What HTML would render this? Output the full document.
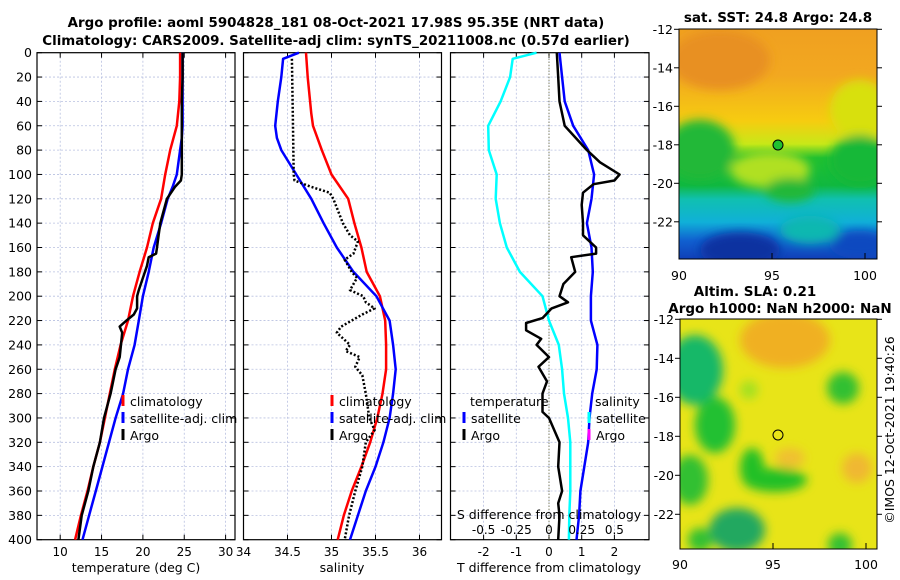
<!DOCTYPE html>
<html><head><meta charset="utf-8">
<style>
body{margin:0;background:#fff;}
svg{display:block;font-family:"DejaVu Sans","Liberation Sans",sans-serif;}
</style></head>
<body>
<svg id="c" width="900" height="580" viewBox="0 0 900 580">
<defs>
<filter id="blur1" x="-20%" y="-20%" width="140%" height="140%"><feGaussianBlur stdDeviation="5"/></filter>
<filter id="blur2" x="-20%" y="-20%" width="140%" height="140%"><feGaussianBlur stdDeviation="5"/></filter>
<clipPath id="clipm1"><rect x="679" y="29" width="198" height="230"/></clipPath>
<clipPath id="clipm2"><rect x="680" y="319" width="197" height="230"/></clipPath>
<linearGradient id="sstg" x1="0" y1="0" x2="0" y2="1">
<stop offset="0" stop-color="#f0a020"/><stop offset="0.2" stop-color="#f2a820"/><stop offset="0.4" stop-color="#f6cc10"/>
<stop offset="0.5" stop-color="#c8e818"/><stop offset="0.56" stop-color="#20c030"/><stop offset="0.68" stop-color="#10b840"/>
<stop offset="0.74" stop-color="#10c0b0"/><stop offset="0.84" stop-color="#10b0d8"/><stop offset="0.92" stop-color="#1060d0"/><stop offset="1" stop-color="#1040b8"/>
</linearGradient>
</defs>
<g font-weight="bold" font-size="13.4" text-anchor="middle">
<text x="336" y="27">Argo profile: aoml 5904828_181 08-Oct-2021 17.98S 95.35E (NRT data)</text>
<text x="336" y="45">Climatology: CARS2009. Satellite-adj clim: synTS_20211008.nc (0.57d earlier)</text>
</g>
<g id="plots"></g>
<g id="maps">
<text x="778" y="22" font-size="13.5" font-weight="bold" text-anchor="middle">sat. SST: 24.8 Argo: 24.8</text>
<g clip-path="url(#clipm1)">
<rect x="679" y="29" width="198" height="230" fill="url(#sstg)"/>
<g filter="url(#blur1)">
<ellipse cx="720" cy="60" rx="50" ry="30" fill="#e89020"/>
<ellipse cx="860" cy="110" rx="30" ry="30" fill="#d8e010"/>
<ellipse cx="700" cy="150" rx="35" ry="30" fill="#20b838"/>
<ellipse cx="860" cy="160" rx="30" ry="25" fill="#18b838"/>
<ellipse cx="770" cy="170" rx="40" ry="18" fill="#b0e020"/>
<ellipse cx="790" cy="190" rx="25" ry="12" fill="#20b838"/>
<ellipse cx="740" cy="250" rx="40" ry="18" fill="#0830a0"/>
<ellipse cx="860" cy="245" rx="30" ry="14" fill="#1048c0"/>
<ellipse cx="810" cy="230" rx="30" ry="14" fill="#10b8b0"/>
</g>
</g>
<rect x="679" y="29" width="198" height="230" fill="none" stroke="#000" stroke-width="1"/>
<circle cx="778" cy="145" r="5" fill="#20c030" stroke="#000"/>
<text x="755" y="296" font-size="13.5" font-weight="bold" text-anchor="middle">Altim. SLA: 0.21</text>
<text x="780" y="313" font-size="13.5" font-weight="bold" text-anchor="middle">Argo h1000: NaN h2000: NaN</text>
<g clip-path="url(#clipm2)">
<rect x="680" y="319" width="197" height="230" fill="#e8e418"/>
<g filter="url(#blur2)">
<ellipse cx="785" cy="340" rx="45" ry="28" fill="#f0b020"/>
<ellipse cx="695" cy="370" rx="28" ry="35" fill="#18b868"/>
<ellipse cx="715" cy="425" rx="20" ry="28" fill="#20c030"/>
<ellipse cx="690" cy="480" rx="18" ry="25" fill="#30c030"/>
<ellipse cx="843" cy="388" rx="16" ry="16" fill="#30c030"/>
<ellipse cx="749" cy="390" rx="9" ry="9" fill="#a0e020"/>
<ellipse cx="775" cy="480" rx="32" ry="12" fill="#20c028"/>
<ellipse cx="752" cy="468" rx="12" ry="20" fill="#20c028"/>
<ellipse cx="737" cy="530" rx="28" ry="22" fill="#20a860"/>
<ellipse cx="857" cy="468" rx="15" ry="15" fill="#f0b830"/>
<ellipse cx="790" cy="458" rx="15" ry="10" fill="#f0c030"/>
<ellipse cx="840" cy="545" rx="12" ry="12" fill="#30c030"/>
<ellipse cx="700" cy="540" rx="12" ry="12" fill="#30c030"/>
</g>
</g>
<rect x="680" y="319" width="197" height="230" fill="none" stroke="#000" stroke-width="1"/>
<circle cx="778" cy="435" r="5" fill="none" stroke="#000"/>
<text transform="translate(894,430) rotate(-90)" font-size="12.5" text-anchor="middle">©IMOS 12-Oct-2021 19:40:26</text>
</g>
</svg>
<script>
// ---------- data ----------
const depthTicks=[0,20,40,60,80,100,120,140,160,180,200,220,240,260,280,300,320,340,360,380,400];
const tempTicks=[10,15,20,25,30];
const salTicks=[34,34.5,35,35.5,36];
const tdiffTicks=[-2,-1,0,1,2];
const sdiffTickLabels=["-0.5","-0.25","0","0.25","0.5"];
const sdiffTicks=[-0.5,-0.25,0,0.25,0.5];
// temperature profiles
const tClimDepth=[0,20,40,60,80,100,120,140,160,180,200,220,240,260,280,300,320,340,360,380,400];
const tClim=[24.5,24.5,24.4,24.1,23.3,22.7,22.2,21.2,20.5,19.6,18.8,18.2,17.3,16.6,16.0,15.4,14.8,14.0,13.3,12.5,11.8];
const tSatDepth=[0,20,40,60,70,80,100,110,120,140,160,180,200,220,240,260,280,300,320,340,360,380,400];
const tSat=[24.8,24.8,24.8,24.8,24.7,24.5,24.1,23.6,23.0,22.2,21.3,20.7,20.0,19.5,19.0,18.2,17.6,16.7,15.9,15.1,14.3,13.5,12.7];
const tArgoDepth=[0,20,40,60,80,100,105,110,120,130,140,150,160,165,168,175,185,195,200,210,215,220,225,230,250,260,280,300,320,340,360,380,400];
const tArgo=[24.8,24.8,24.7,24.7,24.7,24.7,24.6,23.9,22.9,22.5,22.1,21.9,21.7,21.6,20.7,20.5,20.0,19.5,19.3,19.3,18.9,18.0,17.2,17.5,17.2,16.7,16.1,15.3,14.8,14.0,13.4,12.6,12.2];
// salinity profiles
const sClimDepth=[0,20,50,60,80,100,120,140,160,180,200,220,240,260,280,300,320,340,360,380,400];
const sClim=[34.71,34.73,34.77,34.79,34.89,35.0,35.19,35.26,35.34,35.40,35.55,35.61,35.62,35.62,35.58,35.52,35.44,35.34,35.23,35.14,35.07];
const sSatDepth=[0,5,20,40,60,70,80,100,120,140,160,180,200,220,240,260,280,300,320,340,360,380,400];
const sSat=[34.63,34.45,34.43,34.39,34.36,34.38,34.43,34.60,34.77,34.91,35.06,35.25,35.51,35.66,35.70,35.73,35.70,35.66,35.59,35.50,35.39,35.30,35.21];
const sArgoDepth=[5,50,100,105,110,115,120,140,150,155,165,170,180,185,195,200,205,210,215,225,230,240,245,250,258,265,280,300,310,320,340,360,380,400];
const sArgo=[34.55,34.56,34.57,34.58,34.76,34.98,35.02,35.13,35.21,35.30,35.25,35.15,35.23,35.29,35.21,35.36,35.39,35.49,35.35,35.11,35.06,35.21,35.16,35.32,35.27,35.35,35.39,35.43,35.49,35.39,35.35,35.27,35.20,35.15];
// differences from climatology
const dTDepth=[0,5,20,40,60,80,100,120,140,160,180,200,220,240,260,280,300,320,340,360,380,400];
const dTSat=[-0.38,-1.11,-1.19,-1.48,-1.86,-1.84,-1.6,-1.63,-1.5,-1.29,-0.89,-0.2,0,0.3,0.4,0.46,0.58,0.65,0.65,0.65,0.62,0.61];
const dSDepth=[0,20,40,60,80,100,120,140,160,180,200,220,240,260,280,300,320,340,360,380,400];
const dSSat=[0.08,0.1,0.12,0.185,0.3,0.345,0.325,0.29,0.325,0.335,0.32,0.32,0.37,0.365,0.33,0.31,0.3,0.27,0.24,0.23,0.21];
const dSArgoDepth=[0,20,40,60,80,90,100,105,108,115,125,140,150,160,165,168,180,190,200,205,210,218,222,228,235,240,250,258,270,280,295,300,320,340,360,370,380,400];
const dSArgo=[0.06,0.07,0.08,0.12,0.29,0.39,0.54,0.5,0.34,0.26,0.25,0.26,0.26,0.36,0.36,0.17,0.2,0.11,0.08,0.145,0.02,-0.05,-0.175,-0.175,-0.06,-0.095,0,-0.08,-0.015,-0.05,-0.05,0,0.08,0.07,0.1,0.07,0.08,0.07];

// ---------- geometry ----------
const NS="http://www.w3.org/2000/svg";
const yTop=52.7, yBot=539.7;
const yD=d=>yTop+d*(yBot-yTop)/400;
const P1={l:37,r:235}, P2={l:243.5,r:441.5}, P3={l:450.5,r:649};
const xT=t=>60.2+(t-10)*8.27;
const xS=s=>243.5+(s-34)*88;
const xTd=t=>549+t*32.7;
const xSd=s=>549+s*4*32.7;
const g=document.getElementById('plots');
function el(tag,attrs,parent){const e=document.createElementNS(NS,tag);for(const k in attrs)e.setAttribute(k,attrs[k]);(parent||g).appendChild(e);return e;}
function txt(x,y,s,size,anchor,parent){const t=el('text',{x:x,y:y,'font-size':size,'text-anchor':anchor||'middle'},parent);t.textContent=s;return t;}
function line(xs,ys,xf,color,width,dash,name){
  let d='';for(let i=0;i<xs.length;i++){d+=(i?'L':'M')+xf(xs[i]).toFixed(1)+','+yD(ys[i]).toFixed(1);}
  const p=el('path',{d:d,fill:'none',stroke:color,'stroke-width':width,'stroke-linejoin':'round'});
  if(dash)p.setAttribute('stroke-dasharray',dash);
  
  
}
function panel(P,xf,ticks,labels,name){
  const gg=el('g',{});
  
  
  depthTicks.forEach(d=>{ if(d>0&&d<400) el('line',{x1:P.l,x2:P.r,y1:yD(d),y2:yD(d),stroke:'#b8c0e0','stroke-width':0.8,'stroke-dasharray':'2,2'},gg);
    el('line',{x1:P.l,x2:P.l+5,y1:yD(d),y2:yD(d),stroke:'#000'},gg);
    el('line',{x1:P.r-5,x2:P.r,y1:yD(d),y2:yD(d),stroke:'#000'},gg);});
  ticks.forEach((t,i)=>{const x=xf(t);
    if(x>P.l+1&&x<P.r-1) el('line',{x1:x,x2:x,y1:yTop,y2:yBot,stroke:'#b8c0e0','stroke-width':0.8,'stroke-dasharray':'2,2'},gg);
    el('line',{x1:x,x2:x,y1:yBot-5,y2:yBot,stroke:'#000'},gg);
    el('line',{x1:x,x2:x,y1:yTop,y2:yTop+5,stroke:'#000'},gg);
    const lb=txt(x,556,labels?labels[i]:String(t),12,'middle',gg);
    
    
  });
  el('rect',{x:P.l,y:yTop,width:P.r-P.l,height:yBot-yTop,fill:'none',stroke:'#000','stroke-width':1.2},gg);
}
panel(P1,xT,tempTicks,null,'temperature-panel');
panel(P2,xS,salTicks,null,'salinity-panel');
panel(P3,xTd,tdiffTicks,null,'difference-panel');
depthTicks.forEach(d=>{const t=txt(32,yD(d)+4.5,String(d),12.5,'end');
  
  });
el('line',{x1:xTd(0),x2:xTd(0),y1:yTop,y2:yBot,stroke:'#606030','stroke-width':1,'stroke-dasharray':'1,2'});
// series
line(tClim,tClimDepth,xT,'#ff0000',2.5,null,'temp-climatology-line');
line(tSat,tSatDepth,xT,'#0000ff',2.5,null,'temp-satellite-line');
line(tArgo,tArgoDepth,xT,'#000000',2.5,null,'temp-argo-line');
line(sClim,sClimDepth,xS,'#ff0000',2.5,null,'sal-climatology-line');
line(sSat,sSatDepth,xS,'#0000ff',2.5,null,'sal-satellite-line');
line(sArgo,sArgoDepth,xS,'#000000',2.5,'2,2','sal-argo-line');
line(dTSat,dTDepth,xTd,'#00ffff',2.5,null,'tdiff-satellite-line');
line(dSSat,dSDepth,xSd,'#0000ff',2.5,null,'sdiff-satellite-line');
line(dSArgo,dSArgoDepth,xSd,'#000000',2.5,null,'sdiff-argo-line');
// axis titles
[[136,'temperature (deg C)','temperature-axis-title'],[342,'salinity','salinity-axis-title'],[549,'T difference from climatology','tdiff-axis-title']].forEach(a=>{
  const t=txt(a[0],572,a[1],12.5,'middle');});
const st=txt(549,519,'S difference from climatology',12.5,'middle');


sdiffTicks.forEach((s,i)=>{const t=txt(xSd(s),534,sdiffTickLabels[i],12,'middle');
  
  });
// legends
function legend(x,y,color,label,name){
  const gg=el('g',{});
  
  
  el('rect',{x:x-1.5,y:y-11,width:3,height:11,fill:color},gg);
  txt(x+7,y,label,12.5,'start',gg);
}
legend(123,406,'#ff0000','climatology','legend-temp-climatology');
legend(123,423,'#0000ff','satellite-adj. clim','legend-temp-satellite');
legend(123,440,'#000000','Argo','legend-temp-argo');
legend(332,406,'#ff0000','climatology','legend-sal-climatology');
legend(332,423,'#0000ff','satellite-adj. clim','legend-sal-satellite');
legend(332,440,'#000000','Argo','legend-sal-argo');
const tl=txt(470,406,'temperature',12.5,'start');
legend(464,423,'#0000ff','satellite','legend-tdiff-satellite');
legend(464,440,'#000000','Argo','legend-tdiff-argo');
const sl=txt(595,406,'salinity',12.5,'start');
legend(589,423,'#00ffff','satellite','legend-sdiff-satellite');
legend(589,440,'#ff00ff','Argo','legend-sdiff-argo');
// map axes
const lonTicks=[90,95,100];
const latTicks=[-12,-14,-16,-18,-20,-22];
const mg=document.getElementById('maps');
const lonX1=l=>679+(l-90)*18.6, lonX2=l=>680+(l-90)*18.6;
const latY1=a=>29.3+(-12-a)*19.25, latY2=a=>319.3+(-12-a)*19.5;
lonTicks.forEach(l=>{
  let t=txt(lonX1(l),280,String(l),12.5,'middle',mg);
  el('line',{x1:lonX1(l),x2:lonX1(l),y1:253,y2:259,stroke:'#000'},mg);
  t=txt(lonX2(l),569,String(l),12.5,'middle',mg);
  el('line',{x1:lonX2(l),x2:lonX2(l),y1:543,y2:549,stroke:'#000'},mg);
});
latTicks.forEach(a=>{
  let t=txt(673,latY1(a)+4.5,String(a),12.5,'end',mg);
  el('line',{x1:674,x2:679,y1:latY1(a),y2:latY1(a),stroke:'#000'},mg);
  el('line',{x1:877,x2:882,y1:latY1(a),y2:latY1(a),stroke:'#000'},mg);
  t=txt(674,latY2(a)+4.5,String(a),12.5,'end',mg);
  el('line',{x1:675,x2:680,y1:latY2(a),y2:latY2(a),stroke:'#000'},mg);
  el('line',{x1:877,x2:882,y1:latY2(a),y2:latY2(a),stroke:'#000'},mg);
});
</script>
</body></html>
